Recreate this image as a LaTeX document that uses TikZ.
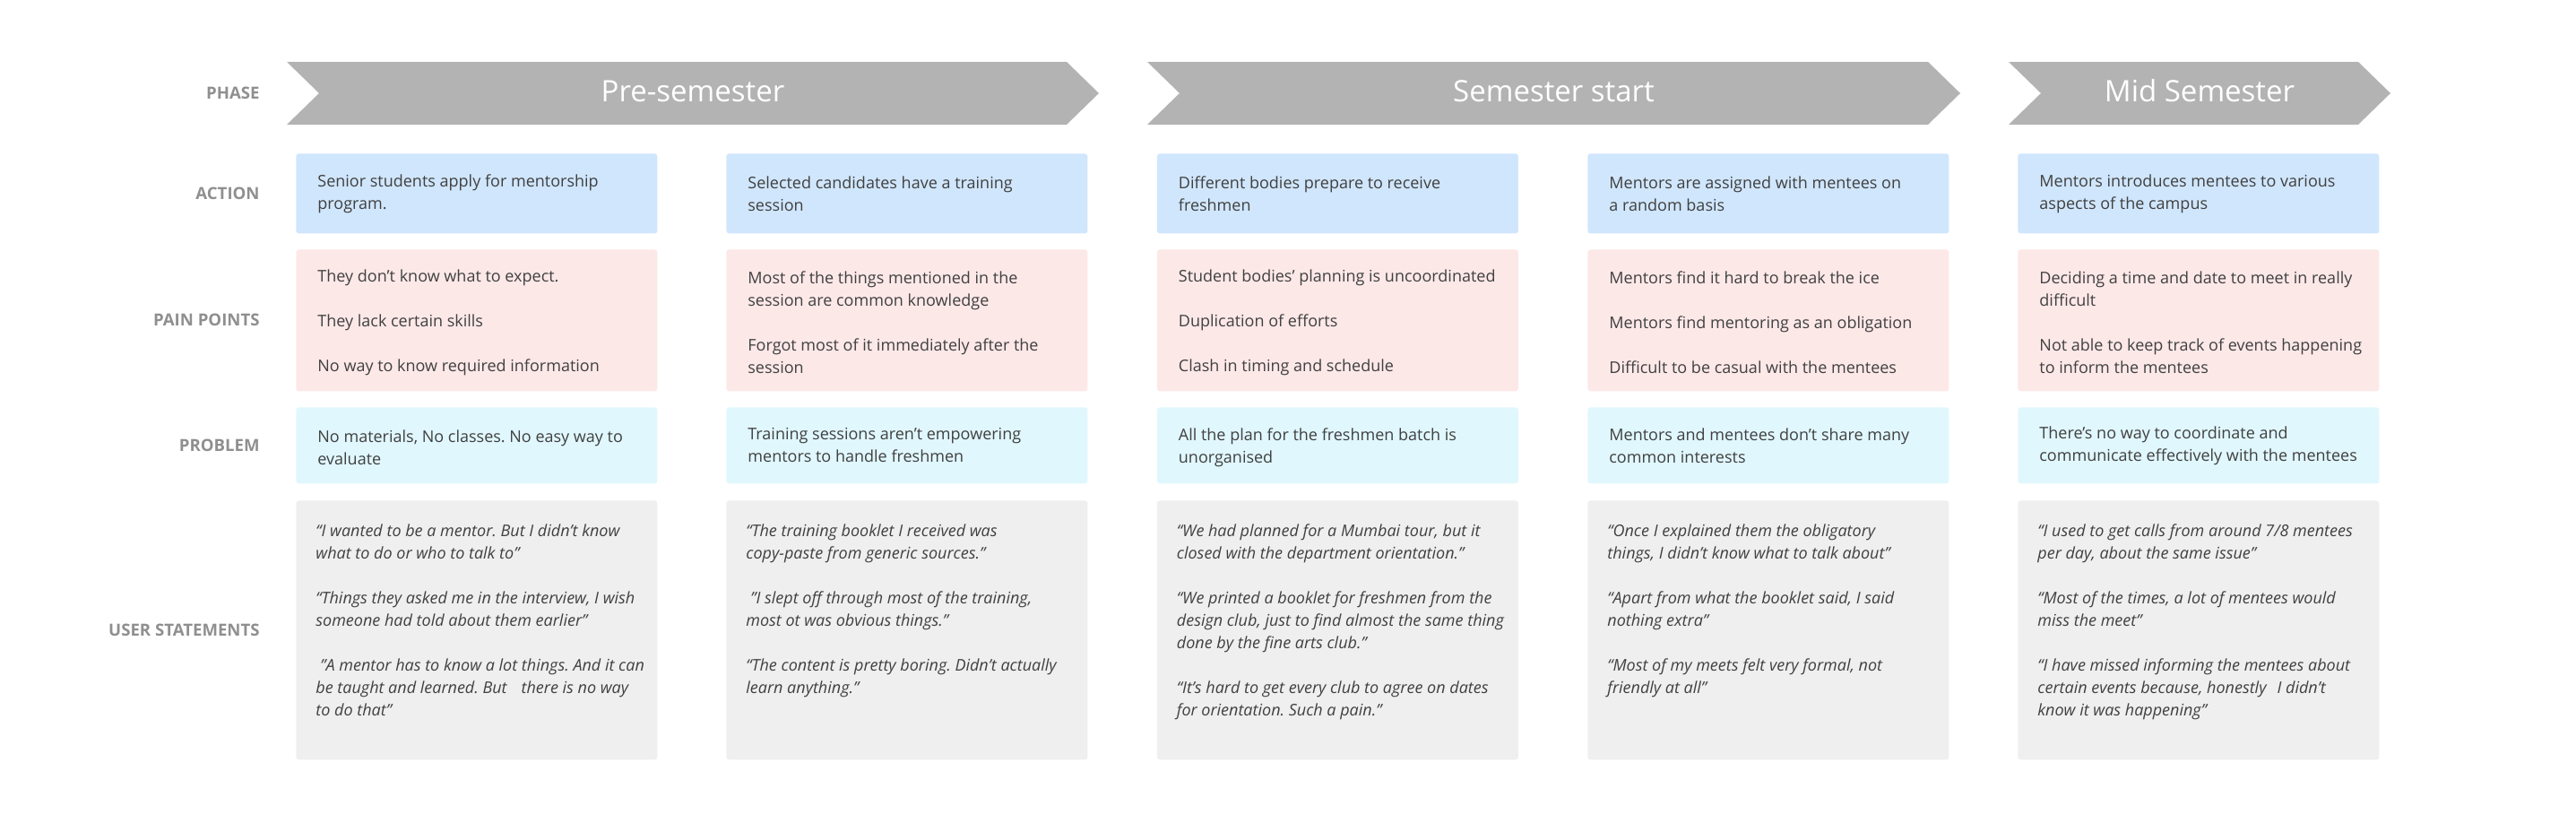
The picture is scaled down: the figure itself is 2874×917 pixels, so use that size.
\documentclass[tikz,border=0pt]{standalone}
\usepackage{fontspec}
\setmainfont{Open Sans}
\frenchspacing
\definecolor{actionC}{HTML}{D0E6FC}
\definecolor{painC}{HTML}{FDE8E8}
\definecolor{probC}{HTML}{E0F7FD}
\definecolor{userC}{HTML}{EFEFEF}
\definecolor{chevC}{HTML}{B3B3B3}
\definecolor{labelC}{HTML}{8F8F8F}
\definecolor{textC}{HTML}{404040}
\begin{document}
\frenchspacing
\begin{tikzpicture}[x=0.5pt,y=-0.5pt,
  rowlabel/.style={anchor=east, inner sep=0, font=\bfseries\fontsize{9.3pt}{11pt}\selectfont, text=labelC},
  cardbox/.style={anchor=north west, rectangle, rounded corners=1.5pt, minimum width=201.5pt, inner sep=0, draw=none},
  actionbox/.style={cardbox, fill=actionC, minimum height=44.5pt},
  painbox/.style={cardbox, fill=painC, minimum height=79pt},
  probbox/.style={cardbox, fill=probC, minimum height=42.5pt},
  userbox/.style={cardbox, fill=userC, minimum height=144.5pt},
  cardtext/.style={inner sep=0, align=left, text=textC, font=\frenchspacing\fontsize{9pt}{12.5pt}\selectfont, anchor=west},
  quotetext/.style={inner sep=0, align=left, text=textC, font=\frenchspacing\itshape\fontsize{9pt}{12.5pt}\selectfont, anchor=north west},
  chev/.style={fill=chevC},
  phasetitle/.style={anchor=base, text=white, inner sep=0, font=\fontsize{16.5pt}{20pt}\selectfont}
]
\useasboundingbox (0,0) rectangle (2874,917);

% row labels
\node[rowlabel] (lphase) at (290,104) {PHASE};
\node[rowlabel] (laction) at (290,215.5) {ACTION};
\node[rowlabel] (lpain) at (290,357) {PAIN POINTS};
\node[rowlabel] (lprob) at (290,496.5) {PROBLEM};
\node[rowlabel] (luser) at (290,702.5) {USER STATEMENTS};

% phase chevrons
\fill[chev] (320,69) -- (1190,69) -- (1226,104) -- (1190,139) -- (320,139) -- (356,104) -- cycle;
\fill[chev] (1280,69) -- (2151,69) -- (2187,104) -- (2151,139) -- (1280,139) -- (1316,104) -- cycle;
\fill[chev] (2241,69) -- (2631,69) -- (2667,104) -- (2631,139) -- (2241,139) -- (2277,104) -- cycle;
\node[phasetitle] (ph1) at (773,113) {Pre-semester};
\node[phasetitle] (ph2) at (1733.5,113) {Semester start};
\node[phasetitle] (ph3) at (2454,113) {Mid Semester};

% ---------- column 1
\node[actionbox] (a1) at (330,171) {};
\node[painbox] (p1) at (330,278) {};
\node[probbox] (r1) at (330,454) {};
\node[userbox] (u1) at (330,558) {};
\node[cardtext] (a1t) at ([xshift=12pt]a1.west) {Senior students apply for mentorship\\program.};
\node[cardtext] (p1t) at ([xshift=12pt,yshift=-1pt]p1.west) {They don’t know what to expect.\\[12.5pt]They lack certain skills\\[12.5pt]No way to know required information};
\node[cardtext] (r1t) at ([xshift=12pt,yshift=-1pt]r1.west) {No materials, No classes. No easy way to\\evaluate};
\node[quotetext] (u1t) at ([xshift=11pt,yshift=-13pt]u1.north west) {“I wanted to be a mentor. But I didn’t know\\what to do or who to talk to”\\[12.5pt]“Things they asked me in the interview, I wish\\someone had told about them earlier”\\[12.5pt]\hspace*{2.5pt}"A mentor has to know a lot things. And it can\\be taught and learned. But\hspace{8pt}there is no way\\to do that”};

% ---------- column 2
\node[actionbox] (a2) at (810,171) {};
\node[painbox] (p2) at (810,278) {};
\node[probbox] (r2) at (810,454) {};
\node[userbox] (u2) at (810,558) {};
\node[cardtext] (a2t) at ([xshift=12pt]a2.west) {Selected candidates have a training\\session};
\node[cardtext] (p2t) at ([xshift=12pt,yshift=-1pt]p2.west) {Most of the things mentioned in the\\session are common knowledge\\[12.5pt]Forgot most of it immediately after the\\session};
\node[cardtext] (r2t) at ([xshift=12pt]r2.west) {Training sessions aren’t empowering\\mentors to handle freshmen};
\node[quotetext] (u2t) at ([xshift=11pt,yshift=-13pt]u2.north west) {“The training booklet I received was\\copy-paste from generic sources."\\[12.5pt]\hspace*{2.5pt}"I slept off through most of the training,\\most ot was obvious things."\\[12.5pt]“The content is pretty boring. Didn’t actually\\learn anything."};

% ---------- column 3
\node[actionbox] (a3) at (1290.5,171) {};
\node[painbox] (p3) at (1290.5,278) {};
\node[probbox] (r3) at (1290.5,454) {};
\node[userbox] (u3) at (1290.5,558) {};
\node[cardtext] (a3t) at ([xshift=12pt]a3.west) {Different bodies prepare to receive\\freshmen};
\node[cardtext] (p3t) at ([xshift=12pt,yshift=-1pt]p3.west) {Student bodies’ planning is uncoordinated\\[12.5pt]Duplication of efforts\\[12.5pt]Clash in timing and schedule};
\node[cardtext] (r3t) at ([xshift=12pt,yshift=-1pt]r3.west) {All the plan for the freshmen batch is\\unorganised};
\node[quotetext] (u3t) at ([xshift=11pt,yshift=-13pt]u3.north west) {“We had planned for a Mumbai tour, but it\\closed with the department orientation."\\[12.5pt]“We printed a booklet for freshmen from the\\design club, just to find almost the same thing\\done by the fine arts club."\\[12.5pt]“It’s hard to get every club to agree on dates\\for orientation. Such a pain."};

% ---------- column 4
\node[actionbox] (a4) at (1771,171) {};
\node[painbox] (p4) at (1771,278) {};
\node[probbox] (r4) at (1771,454) {};
\node[userbox] (u4) at (1771,558) {};
\node[cardtext] (a4t) at ([xshift=12pt]a4.west) {Mentors are assigned with mentees on\\a random basis};
\node[cardtext] (p4t) at ([xshift=12pt,yshift=-1pt]p4.west) {Mentors find it hard to break the ice\\[12.5pt]Mentors find mentoring as an obligation\\[12.5pt]Difficult to be casual with the mentees};
\node[cardtext] (r4t) at ([xshift=12pt]r4.west) {Mentors and mentees don’t share many\\common interests};
\node[quotetext] (u4t) at ([xshift=11pt,yshift=-13pt]u4.north west) {“Once I explained them the obligatory\\things, I didn’t know what to talk about”\\[12.5pt]“Apart from what the booklet said, I said\\nothing extra”\\[12.5pt]“Most of my meets felt very formal, not\\friendly at all”};

% ---------- column 5
\node[actionbox] (a5) at (2251,171) {};
\node[painbox] (p5) at (2251,278) {};
\node[probbox] (r5) at (2251,454) {};
\node[userbox] (u5) at (2251,558) {};
\node[cardtext] (a5t) at ([xshift=12pt]a5.west) {Mentors introduces mentees to various\\aspects of the campus};
\node[cardtext] (p5t) at ([xshift=12pt,yshift=-1pt]p5.west) {Deciding a time and date to meet in really\\difficult\\[12.5pt]Not able to keep track of events happening\\to inform the mentees};
\node[cardtext] (r5t) at ([xshift=12pt]r5.west) {There’s no way to coordinate and\\communicate effectively with the mentees};
\node[quotetext] (u5t) at ([xshift=11pt,yshift=-13pt]u5.north west) {“I used to get calls from around 7/8 mentees\\per day, about the same issue”\\[12.5pt]“Most of the times, a lot of mentees would\\miss the meet”\\[12.5pt]“I have missed informing the mentees about\\certain events because, honestly\hspace{6pt}I didn’t\\know it was happening”};
\end{tikzpicture}
\end{document}
